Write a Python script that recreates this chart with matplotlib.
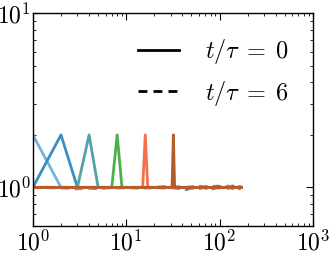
import numpy as np
import matplotlib
matplotlib.use('Agg')
import matplotlib.pyplot as plt
from matplotlib.lines import Line2D
from matplotlib.ticker import FuncFormatter

plt.rcParams['mathtext.fontset'] = 'cm'
plt.rcParams['font.family'] = 'DejaVu Sans'

# peak positions of the initial (t/tau = 0) curves
peaks = [1, 2, 4, 8, 16, 32]
k_max = 172
colors = ['#74b3dc', '#3b8dc6', '#52a2aa', '#4cb048', '#f3704a', '#b75b2b']

# t/tau = 6 curves: sampled k and values (close to 1)
k6 = [1, 2, 3, 4, 5, 6, 8, 10, 13, 16, 20, 25, 30, 36, 44, 52, 62, 72, 84,
      96, 110, 124, 138, 150, 162, 172]
v6 = [
    [1.00, 0.99, 0.98, 0.99, 1.00, 1.00, 1.00, 0.99, 1.00, 1.00, 1.00, 0.99, 1.00,
     1.00, 0.98, 1.00, 1.01, 0.99, 1.00, 1.02, 0.99, 1.01, 0.98, 1.01, 0.99, 1.00],
    [1.00, 1.00, 0.99, 1.00, 0.99, 1.00, 1.00, 1.00, 0.99, 1.00, 1.00, 1.00, 0.99,
     1.00, 0.97, 1.00, 0.99, 1.01, 0.98, 1.00, 1.02, 0.99, 1.01, 0.99, 1.01, 1.00],
    [1.00, 1.00, 1.00, 0.99, 0.98, 0.99, 1.00, 1.00, 1.00, 1.00, 0.99, 1.00, 1.00,
     1.00, 1.00, 0.99, 1.01, 1.00, 0.99, 1.01, 0.99, 1.00, 1.02, 0.99, 1.00, 1.01],
    [1.00, 1.00, 1.00, 1.00, 1.00, 1.00, 0.99, 1.00, 1.00, 1.00, 1.00, 1.01, 1.00,
     0.99, 1.00, 1.01, 0.99, 1.00, 1.02, 0.99, 1.00, 1.01, 0.99, 1.01, 0.98, 1.00],
    [1.00, 1.00, 1.00, 1.00, 1.00, 1.00, 1.00, 1.00, 1.00, 0.99, 1.00, 1.00, 1.00,
     1.01, 1.00, 0.99, 1.00, 1.01, 0.99, 1.00, 0.99, 1.02, 1.00, 0.99, 1.01, 1.00],
    [1.00, 1.00, 1.00, 1.00, 1.00, 1.00, 1.00, 1.00, 1.00, 1.00, 1.00, 1.00, 1.00,
     0.99, 1.00, 1.00, 1.01, 0.99, 1.00, 1.01, 1.00, 0.99, 1.01, 1.00, 0.99, 1.00],
]


def initial_curve(p):
    # delta-like bump of height 2 at k = p on a flat background of 1
    if p == 1:
        return [1, 2, k_max], [2, 1, 1]
    return [1, p - 1, p, p + 1, k_max], [1, 1, 2, 1, 1]


def pow10(v, pos):
    return r'$10^{%d}$' % int(round(np.log10(v)))


fig = plt.figure(figsize=(3.29, 2.56), dpi=100)
ax = fig.add_axes([0.100, 0.117, 0.851, 0.832])

for i, p in enumerate(peaks):
    ax.plot(k6, v6[i], color=colors[i], lw=2, ls='--', dashes=(3, 2))
for i, p in enumerate(peaks):
    x, y = initial_curve(p)
    ax.plot(x, y, color=colors[i], lw=2)

ax.set_xscale('log')
ax.set_yscale('log')
ax.set_xlim(1, 1000)
ax.set_ylim(0.6, 10)
ax.set_yticks([1, 10])
ax.xaxis.set_major_formatter(FuncFormatter(pow10))
ax.yaxis.set_major_formatter(FuncFormatter(pow10))
ax.tick_params(which='both', direction='in', top=True, right=True, labelsize=17)
ax.tick_params(which='major', length=5, width=0.8)
ax.tick_params(which='minor', length=2.5, width=0.6)
ax.tick_params(axis='x', pad=3)
ax.tick_params(axis='y', pad=1.5)
for s in ax.spines.values():
    s.set_linewidth(1.0)

handles = [Line2D([], [], color='k', lw=2),
           Line2D([], [], color='k', lw=2, ls='--', dashes=(3.2, 2.2))]
ax.legend(handles, [r'$t/\tau\;=\;0$', r'$t/\tau\;=\;6$'], loc='upper right',
          frameon=False, fontsize=17.5, handlelength=1.7, handletextpad=1.05,
          labelspacing=0.5, borderaxespad=0.6)

fig.savefig('out.png', dpi=100)
